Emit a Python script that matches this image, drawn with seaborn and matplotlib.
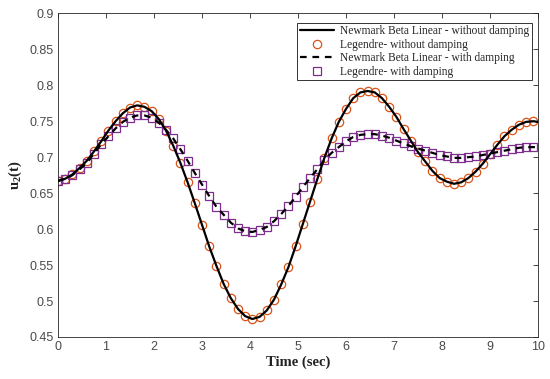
import matplotlib
matplotlib.use("Agg")
import matplotlib.pyplot as plt
import seaborn as sns
import pandas as pd

# Legendre (marker) time grid
time_leg = [0.0, 0.15, 0.3, 0.45, 0.6, 0.75, 0.9, 1.05, 1.2, 1.35, 1.5, 1.65, 1.8, 1.95,
            2.1, 2.25, 2.4, 2.55, 2.7, 2.85, 3.0, 3.15, 3.3, 3.45, 3.6, 3.75, 3.9, 4.05,
            4.2, 4.35, 4.5, 4.65, 4.8, 4.95, 5.1, 5.25, 5.4, 5.55, 5.7, 5.85, 6.0, 6.15,
            6.3, 6.45, 6.6, 6.75, 6.9, 7.05, 7.2, 7.35, 7.5, 7.65, 7.8, 7.95, 8.1, 8.25,
            8.4, 8.55, 8.7, 8.85, 9.0, 9.15, 9.3, 9.45, 9.6, 9.75, 9.9]

leg_undamped = [0.667, 0.670, 0.676, 0.685, 0.695, 0.708, 0.722, 0.737, 0.750, 0.761,
                0.769, 0.772, 0.770, 0.764, 0.753, 0.737, 0.716, 0.692, 0.665, 0.636,
                0.606, 0.576, 0.549, 0.524, 0.504, 0.489, 0.479, 0.475, 0.478, 0.487,
                0.502, 0.523, 0.547, 0.576, 0.607, 0.638, 0.669, 0.699, 0.726, 0.749,
                0.767, 0.782, 0.790, 0.792, 0.790, 0.782, 0.770, 0.756, 0.739, 0.723,
                0.707, 0.694, 0.681, 0.671, 0.666, 0.663, 0.665, 0.671, 0.680, 0.691,
                0.704, 0.717, 0.729, 0.738, 0.745, 0.749, 0.750]

leg_damped = [0.667, 0.670, 0.675, 0.683, 0.692, 0.705, 0.718, 0.729, 0.740, 0.749,
              0.755, 0.758, 0.758, 0.755, 0.748, 0.738, 0.726, 0.711, 0.695, 0.678,
              0.662, 0.646, 0.631, 0.620, 0.609, 0.601, 0.597, 0.596, 0.599, 0.603,
              0.611, 0.621, 0.632, 0.645, 0.658, 0.671, 0.683, 0.696, 0.706, 0.714,
              0.722, 0.728, 0.731, 0.732, 0.732, 0.730, 0.727, 0.723, 0.719, 0.715,
              0.712, 0.709, 0.706, 0.703, 0.701, 0.699, 0.699, 0.700, 0.701, 0.703,
              0.705, 0.707, 0.709, 0.711, 0.713, 0.714, 0.714]

# Newmark (line) time grid
time_nm = [0.0, 0.15, 0.3, 0.45, 0.6, 0.75, 0.9, 1.05, 1.2, 1.35, 1.5, 1.65, 1.8, 1.95,
           2.1, 2.25, 2.4, 2.55, 2.7, 2.85, 3.0, 3.15, 3.3, 3.45, 3.6, 3.75, 3.9, 4.05,
           4.2, 4.35, 4.5, 4.65, 4.8, 4.95, 5.1, 5.25, 5.4, 5.55, 5.7, 5.85, 6.0, 6.15,
           6.3, 6.45, 6.6, 6.75, 6.9, 7.05, 7.2, 7.35, 7.5, 7.65, 7.8, 7.95, 8.1, 8.25,
           8.4, 8.55, 8.7, 8.85, 9.0, 9.15, 9.3, 9.45, 9.6, 9.75, 9.9, 10.0]

nm_undamped = [0.667, 0.670, 0.676, 0.685, 0.695, 0.708, 0.722, 0.737, 0.750, 0.761,
               0.769, 0.772, 0.770, 0.764, 0.753, 0.737, 0.716, 0.692, 0.665, 0.636,
               0.606, 0.576, 0.549, 0.524, 0.504, 0.489, 0.479, 0.475, 0.478, 0.487,
               0.502, 0.523, 0.547, 0.576, 0.607, 0.638, 0.669, 0.699, 0.726, 0.749,
               0.767, 0.782, 0.790, 0.792, 0.790, 0.782, 0.770, 0.756, 0.739, 0.723,
               0.707, 0.694, 0.681, 0.671, 0.666, 0.663, 0.665, 0.671, 0.680, 0.691,
               0.704, 0.717, 0.729, 0.738, 0.745, 0.749, 0.750, 0.749]

nm_damped = [0.667, 0.670, 0.675, 0.683, 0.692, 0.705, 0.718, 0.729, 0.740, 0.749,
             0.755, 0.758, 0.758, 0.755, 0.748, 0.738, 0.726, 0.711, 0.695, 0.678,
             0.662, 0.646, 0.631, 0.620, 0.609, 0.601, 0.597, 0.596, 0.599, 0.603,
             0.611, 0.621, 0.632, 0.645, 0.658, 0.671, 0.683, 0.696, 0.706, 0.714,
             0.722, 0.728, 0.731, 0.732, 0.732, 0.730, 0.727, 0.723, 0.719, 0.715,
             0.712, 0.709, 0.706, 0.703, 0.701, 0.699, 0.699, 0.700, 0.701, 0.703,
             0.705, 0.707, 0.709, 0.711, 0.713, 0.714, 0.714, 0.714]

x_ticks = [0, 1, 2, 3, 4, 5, 6, 7, 8, 9, 10]
y_ticks = [0.45, 0.5, 0.55, 0.6, 0.65, 0.7, 0.75, 0.8, 0.85, 0.9]
y_tick_labels = ["0.45", "0.5", "0.55", "0.6", "0.65", "0.7", "0.75", "0.8", "0.85", "0.9"]

labels = ["Newmark Beta Linear - without damping", "Legendre- without damping",
          "Newmark Beta Linear - with damping", "Legendre- with damping"]

sns.set_style("white")
plt.rcParams["font.family"] = ["Liberation Sans", "DejaVu Sans"]
plt.rcParams["mathtext.fontset"] = "custom"
plt.rcParams["mathtext.rm"] = "Liberation Serif"
plt.rcParams["mathtext.bf"] = "Liberation Serif:bold"

ORANGE = "#D95319"
PURPLE = "#7E2F8E"
AXC = "#262626"

fig = plt.figure(figsize=(5.5, 3.79), dpi=100)
ax = fig.add_axes([58 / 550, 1 - 337 / 379, 480 / 550, (337 - 13.3) / 379])

df_nm = pd.DataFrame({"t": time_nm, "u": nm_undamped, "d": nm_damped})
df_leg = pd.DataFrame({"t": time_leg, "u": leg_undamped, "d": leg_damped})

sns.lineplot(data=df_nm, x="t", y="u", ax=ax, color="black", linewidth=1.6,
             label=labels[0], zorder=3)
sns.lineplot(data=df_leg, x="t", y="u", ax=ax, color=ORANGE, linestyle="", marker="o",
             markersize=6, markerfacecolor="none", markeredgecolor=ORANGE,
             markeredgewidth=0.9, label=labels[1], zorder=2)
sns.lineplot(data=df_nm, x="t", y="d", ax=ax, color="black", linewidth=1.6,
             linestyle=(0, (3, 2.6)), label=labels[2], zorder=3)
sns.lineplot(data=df_leg, x="t", y="d", ax=ax, color=PURPLE, linestyle="", marker="s",
             markersize=5.5, markerfacecolor="none", markeredgecolor=PURPLE,
             markeredgewidth=0.9, label=labels[3], zorder=2)

ax.set_xlim(0, 10)
ax.set_ylim(0.45, 0.9)
ax.set_xticks(x_ticks)
ax.set_xticklabels([str(v) for v in x_ticks])
ax.set_yticks(y_ticks)
ax.set_yticklabels(y_tick_labels)
ax.tick_params(direction="in", length=3.5, width=0.6, colors=AXC, labelsize=9,
               top=True, right=True, pad=3)
for lab in ax.get_xticklabels() + ax.get_yticklabels():
    lab.set_color("#4a4a4a")
for sp in ax.spines.values():
    sp.set_visible(True)
    sp.set_color(AXC)
    sp.set_linewidth(0.6)

ax.set_xlabel("Time (sec)", fontfamily="Liberation Serif", fontweight="bold",
              fontsize=10.5, color="#222222", labelpad=2)
ax.set_ylabel(r"u$_\mathbf{2}$(t)", fontfamily="Liberation Serif", fontweight="bold",
              fontsize=10.5, color="#222222", labelpad=4)

leg = ax.legend(loc="upper right", bbox_to_anchor=(0.995, 0.982),
                prop={"family": "Liberation Serif", "size": 8.3},
                frameon=True, fancybox=False, edgecolor="black",
                handlelength=3.0, handletextpad=0.5, borderpad=0.25,
                labelspacing=0.12, borderaxespad=0.3)
leg.get_frame().set_linewidth(0.7)

fig.savefig("out.png", dpi=100)
